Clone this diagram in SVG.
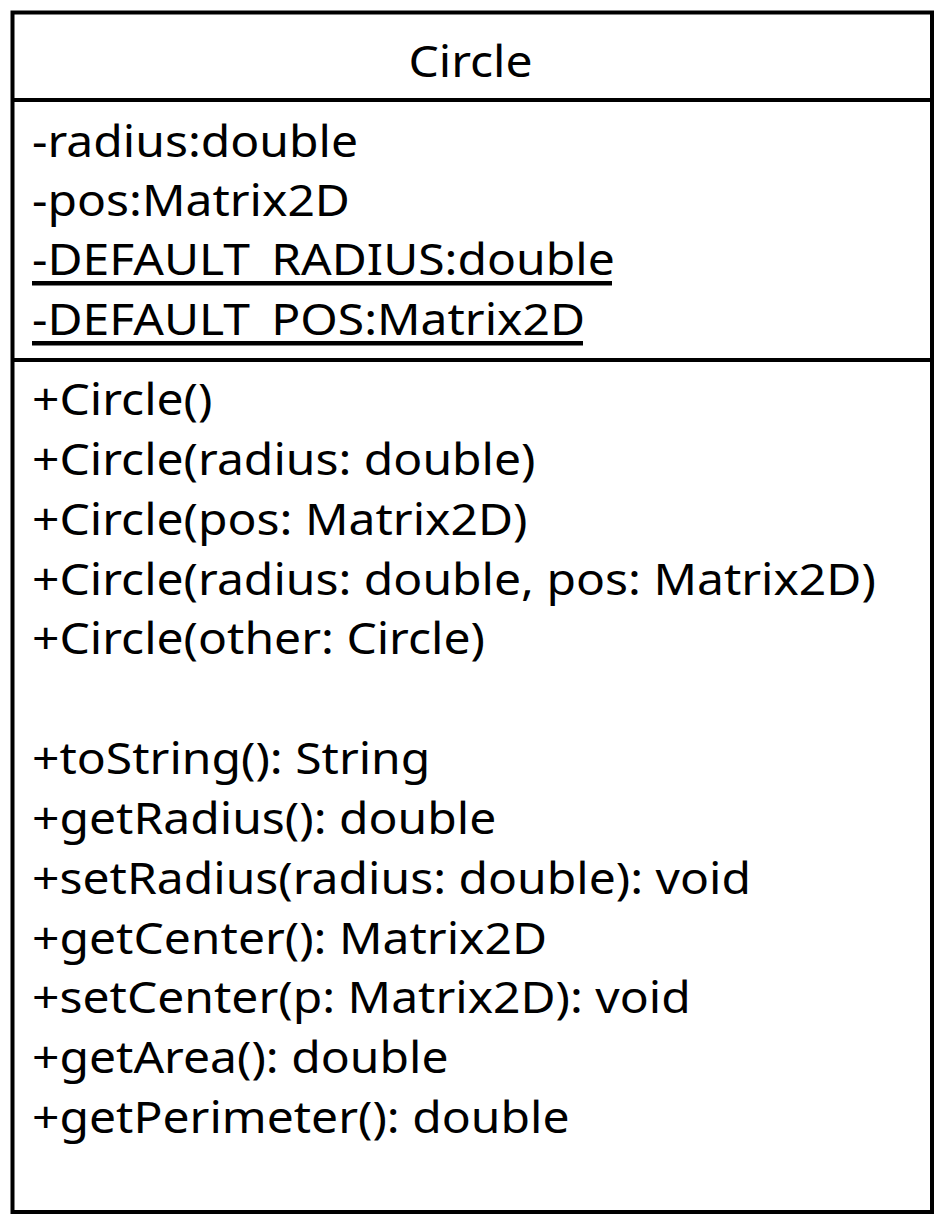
<svg xmlns="http://www.w3.org/2000/svg" width="940" height="1220" viewBox="0 0 940 1220">
<style>
text{font-family:"Noto Sans","Open Sans","DejaVu Sans",sans-serif;font-size:44px;fill:#000}
.ln{stroke:#000;stroke-width:4;fill:none}
.ul{stroke:#000;stroke-width:4.5}
</style>
<rect width="940" height="1220" fill="#fff"/>
<g id="class-circle">
<rect class="ln" x="12.5" y="12.5" width="919.5" height="1199.5"/>
<line class="ln" x1="12.5" y1="100" x2="932" y2="100"/>
<line class="ln" x1="12.5" y1="360" x2="932" y2="360"/>
<text transform="translate(470.5,77) scale(1.092,1)" x="0" y="0" text-anchor="middle">Circle</text>
<g transform="translate(32,0) scale(1.092,1)">
<text x="0" y="156.8">-radius:double</text>
<text x="0" y="216">-pos:Matrix2D</text>
<text x="0" y="275.3">-DEFAULT<tspan dy="3">_</tspan><tspan dy="-3">RADIUS:double</tspan></text>
<text x="0" y="334.7">-DEFAULT<tspan dy="3">_</tspan><tspan dy="-3">POS:Matrix2D</tspan></text>
<text x="0" y="415">+Circle()</text>
<text x="0" y="474.9">+Circle(radius: double)</text>
<text x="0" y="534.7">+Circle(pos: Matrix2D)</text>
<text x="0" y="594.6">+Circle(radius: double, pos: Matrix2D)</text>
<text x="0" y="654.4">+Circle(other: Circle)</text>
<text x="0" y="774.1">+toString(): String</text>
<text x="0" y="834">+getRadius(): double</text>
<text x="0" y="893.8">+setRadius(radius: double): void</text>
<text x="0" y="953.7">+getCenter(): Matrix2D</text>
<text x="0" y="1013.5">+setCenter(p: Matrix2D): void</text>
<text x="0" y="1073.4">+getArea(): double</text>
<text x="0" y="1133.2">+getPerimeter(): double</text>
</g>
<line class="ul" x1="32" y1="283.3" x2="612" y2="283.3"/>
<line class="ul" x1="32" y1="343.2" x2="583" y2="343.2"/>
</g>
<g id="connectors"/>
</svg>
